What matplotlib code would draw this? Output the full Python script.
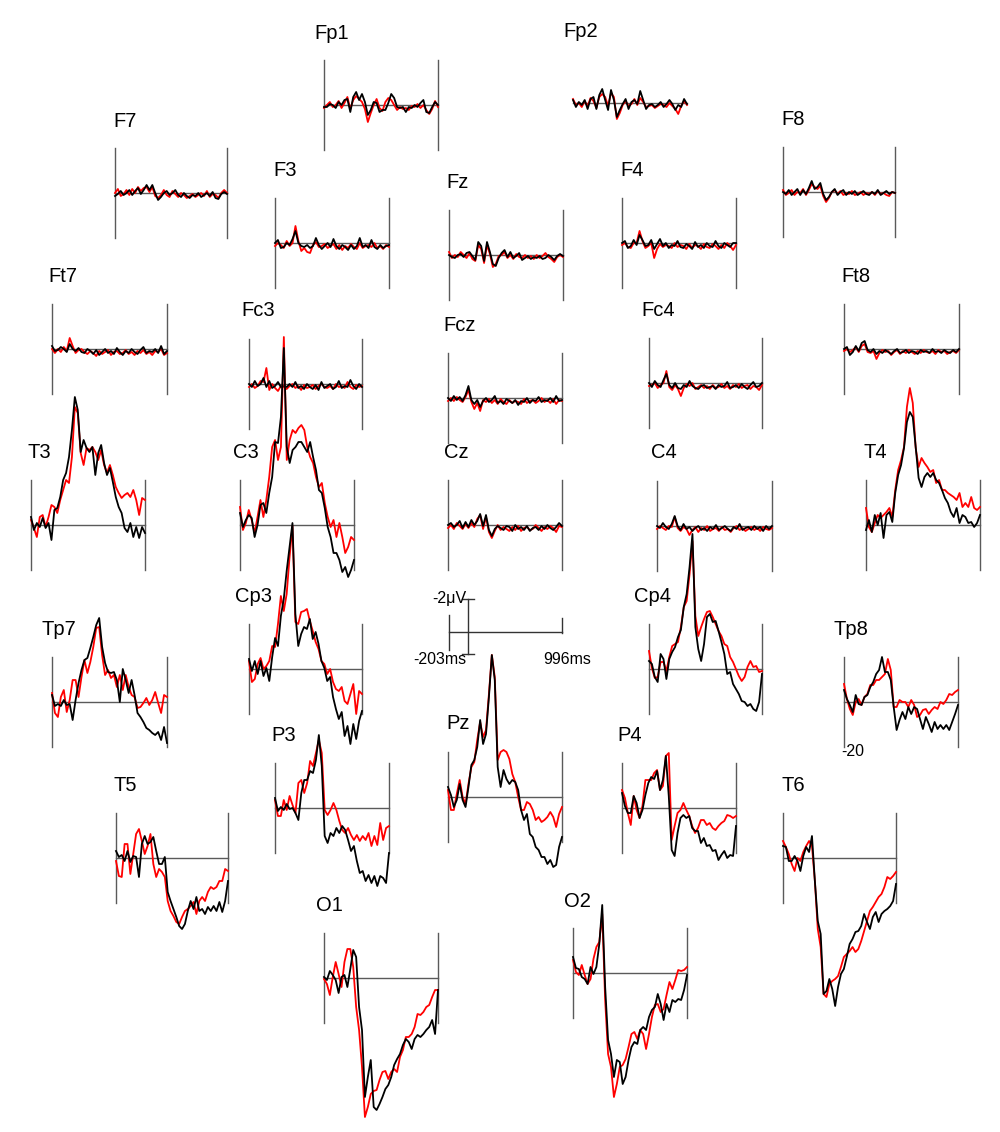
#!/usr/bin/python
"""ERP topographic plot
=======================

Grand average waveforms for two conditions (red / black) drawn on a
head-shaped layout of 28 channels. Negative is plotted up.

Run with

python plot.py
"""

import numpy as np
import matplotlib
matplotlib.use('Agg')
import matplotlib.pyplot as plt

plt.rcParams['font.family'] = ['Liberation Sans', 'DejaVu Sans']

EPOCH_START = -203  # ms
EPOCH_END = 996     # ms
N_SAMPLES = 40
Y_LIM = 4.5         # uV, half height of a channel box

# amplitudes in uV, one value per sample
FP1_RED = [0.3, 0.0, -0.3, 0.2, 0.0, -0.4, 0.3, -0.2, -0.8, 0.4,
           -0.5, -0.9, -0.6, -0.3, 0.4, 1.7, 0.8, 0.0, -0.6, 0.3,
           0.6, -0.3, -0.7, -0.5, 0.0, 0.5, 0.2, 0.4, 0.3, 0.5,
           0.1, 0.2, -0.1, 0.3, 0.0, 0.5, 0.9, 0.4, -0.4, 0.2]
FP1_BLK = [0.2, 0.2, -0.1, 0.0, 0.3, -0.3, 0.0, -0.5, -0.6, 0.7,
           -0.8, -1.3, -0.5, -1.1, -0.3, 1.0, 0.5, -0.3, -0.2, 0.7,
           0.5, 0.5, -0.2, -1.1, -0.7, 0.2, 0.3, 0.2, 0.7, 0.2,
           0.3, 0.0, 0.2, -0.2, -0.5, 0.7, 0.8, 0.2, -0.3, 0.0]
FP2_RED = [-0.4, 0.2, 0.0, 0.4, -0.2, 0.3, -0.5, -0.2, 0.5, -0.6,
           -0.9, -0.6, 0.3, -1.0, -0.6, 1.6, 1.0, 0.2, -0.2, 0.3,
           0.1, -0.4, 0.2, -0.5, -0.1, 0.4, 0.3, 0.2, 0.5, 0.3,
           0.1, 0.2, 0.4, 0.0, 0.3, 0.6, 1.1, 0.3, -0.2, 0.2]
FP2_BLK = [-0.3, 0.4, -0.1, 0.2, -0.3, 0.6, -0.4, -0.6, 0.6, -0.8,
           -1.4, -0.3, 0.7, -1.3, -0.3, 1.4, 0.7, 0.1, -0.4, 0.6,
           -0.1, -0.3, 0.1, -1.2, -0.3, 0.6, 0.2, 0.1, 0.4, 0.2,
           -0.1, 0.4, 0.1, -0.3, 0.1, 0.7, 0.2, 0.4, -0.4, 0.1]
F7_RED = [0.0, -0.4, 0.3, 0.1, -0.3, 0.2, -0.4, 0.0, -0.6, -0.2,
          -0.5, -0.6, -0.1, -0.6, 0.3, 0.5, 0.2, -0.3, 0.2, 0.4,
          -0.2, 0.1, 0.4, 0.0, 0.2, 0.5, 0.3, 0.1, 0.4, 0.2,
          0.0, 0.3, -0.2, 0.4, 0.1, 0.2, 0.5, 0.0, -0.3, 0.0]
F7_BLK = [0.3, 0.1, -0.2, 0.2, 0.0, -0.3, 0.2, -0.2, -0.5, 0.1,
          -0.3, -0.8, -0.3, -0.8, 0.0, 0.7, 0.4, 0.0, -0.2, 0.2,
          0.0, -0.3, 0.2, 0.4, 0.0, 0.3, 0.5, 0.2, 0.3, 0.0,
          0.4, 0.2, 0.0, 0.3, -0.1, 0.5, 0.6, 0.1, -0.1, 0.1]
F3_RED = [0.3, 0.0, 0.2, 0.5, -0.2, 0.3, 0.0, -1.7, -0.2, 0.8,
          0.5, 0.9, 1.0, 0.2, -0.1, 0.4, 0.3, 0.1, 0.5, 0.3,
          0.1, 0.6, 0.2, 0.7, 0.3, 0.5, 0.1, 0.4, 0.6, 0.0,
          0.5, 0.3, 0.2, 0.4, 0.0, 0.5, 0.3, 0.6, 0.2, 0.4]
F3_BLK = [0.0, -0.3, 0.5, 0.4, 0.0, 0.2, -0.4, -1.2, 0.0, 0.3,
          0.4, 0.2, 0.5, 0.3, -0.5, 0.2, 0.6, 0.3, 0.0, 0.4,
          -0.4, 0.3, 0.6, 0.2, 0.4, 0.7, 0.2, 0.6, 0.3, -0.5,
          0.4, 0.2, 0.5, -0.3, 0.4, 0.6, 0.2, 0.5, 0.3, 0.2]
FZ_RED = [-0.3, 0.3, 0.0, 0.2, -0.3, 0.0, 0.3, -0.2, 0.4, 0.6,
          -1.0, -0.6, 0.8, -1.0, -0.1, 1.2, 0.9, 0.1, 0.0, -0.3,
          0.3, 0.0, 0.4, -0.1, 0.2, 0.3, 0.0, 0.3, 0.1, 0.4,
          0.0, 0.3, 0.1, -0.2, 0.2, 0.4, 0.7, 0.2, 0.0, 0.2]
FZ_BLK = [0.0, 0.2, 0.3, 0.0, -0.1, 0.2, -0.2, -0.3, 0.1, 0.5,
          -1.3, -0.9, 0.6, -1.3, -0.3, 0.9, 1.1, 0.3, -0.2, -0.5,
          0.2, -0.3, 0.3, 0.1, -0.2, 0.5, 0.3, 0.1, 0.4, 0.2,
          0.3, 0.1, 0.4, 0.3, 0.0, 0.2, 0.5, 0.1, -0.1, 0.1]
F4_RED = [0.2, 0.0, 0.4, 0.5, 0.0, 0.0, -1.2, -0.2, 0.5, 0.3,
          0.0, 1.5, 0.6, 0.1, 0.4, 0.2, 0.3, 0.5, 0.0, 0.4,
          0.2, 0.3, 0.6, 0.1, 0.5, 0.2, 0.3, 0.6, 0.1, 0.4,
          0.5, 0.1, 0.3, 0.6, 0.2, 0.5, 0.0, 0.3, 0.7, 0.2]
F4_BLK = [0.0, -0.2, 0.5, 0.3, -0.3, 0.2, -0.8, -0.3, 0.3, 0.2,
          -0.3, 0.6, 0.1, -0.4, 0.3, 0.0, 0.5, 0.2, 0.3, -0.2,
          0.4, 0.5, 0.1, 0.3, 0.6, -0.1, 0.4, 0.2, 0.5, 0.0,
          0.3, 0.4, -0.2, 0.3, 0.5, 0.0, 0.2, 0.4, 0.0, 0.0]
F8_RED = [-0.2, 0.3, 0.1, -0.2, 0.3, 0.0, 0.1, -0.3, 0.3, -0.2,
          -0.8, -0.5, -0.3, -0.6, 0.4, 1.0, 0.6, 0.0, -0.2, 0.2,
          -0.1, 0.3, 0.1, 0.2, -0.1, 0.3, 0.2, 0.0, 0.3, 0.1,
          0.2, 0.0, 0.3, -0.1, 0.2, 0.1, 0.3, 0.4, 0.0, 0.1]
F8_BLK = [0.0, 0.2, -0.2, 0.3, 0.0, -0.3, 0.3, -0.2, 0.2, -0.4,
          -1.1, -0.3, -0.5, -0.9, 0.2, 0.8, 0.5, 0.0, -0.3, 0.3,
          0.0, -0.2, 0.3, 0.0, 0.2, -0.1, 0.3, 0.1, -0.1, 0.2,
          0.3, 0.0, 0.2, -0.2, 0.3, 0.1, -0.1, 0.2, 0.0, 0.1]
FT7_RED = [0.0, 0.4, 0.0, 0.3, -0.2, 0.2, -1.1, -0.3, 0.4, 0.1,
           0.0, 0.3, 0.5, 0.2, 0.4, 0.7, 0.2, 0.5, 0.3, 0.1,
           0.6, 0.3, 0.2, 0.5, 0.4, 0.1, 0.5, 0.3, 0.6, 0.2,
           0.4, 0.1, 0.5, 0.3, 0.6, 0.2, 0.3, 0.0, 0.6, 0.4]
FT7_BLK = [-0.3, 0.2, 0.1, -0.2, 0.0, 0.3, -0.5, 0.0, 0.2, -0.1,
           0.3, 0.4, 0.0, 0.2, 0.5, 0.1, 0.6, 0.3, 0.0, 0.4,
           0.2, 0.5, -0.1, 0.3, 0.6, 0.2, 0.4, 0.0, 0.3, 0.5,
           0.1, -0.2, 0.4, 0.2, 0.3, 0.0, 0.4, -0.3, 0.5, 0.2]
FC3_RED = [0.3, 0.0, 0.4, 0.2, -0.3, -0.2, -1.6, 0.6, 0.0, 0.4,
           0.7, 0.2, 0.3, 0.5, 0.2, 0.0, 0.4, 0.2, 0.6, 0.1,
           0.4, 0.3, 0.1, 0.5, 0.2, 0.0, 0.3, 0.4, 0.2, 0.5,
           0.0, 0.3, 0.2, 0.4, -0.2, 0.3, 0.5, 0.1, 0.3, 0.2]
FC3_BLK = [0.0, 0.3, -0.3, 0.2, 0.0, -0.6, 0.3, -0.3, 0.4, 0.2,
           -0.2, 0.3, 0.2, 0.3, 0.0, 0.3, -0.2, 0.4, 0.2, 0.5,
           0.0, 0.3, 0.5, 0.1, 0.6, -0.2, 0.4, 0.2, 0.0, 0.5,
           0.3, -0.3, 0.4, 0.2, 0.3, -0.4, 0.2, 0.5, 0.0, 0.3]
FCZ_RED = [0.3, 0.0, 0.3, -0.1, 0.2, 0.4, -0.1, -0.8, 0.4, 1.1,
           0.5, 1.3, 0.2, 0.4, 0.1, 0.5, 0.2, 0.6, 0.1, 0.4,
           0.6, 0.2, 0.5, 0.3, 0.4, 0.6, 0.1, 0.5, 0.3, 0.2,
           0.5, 0.3, 0.0, 0.4, 0.2, 0.5, 0.1, 0.6, 0.2, 0.3]
FCZ_BLK = [0.0, 0.3, -0.2, 0.2, -0.1, 0.3, -0.3, -1.2, 0.2, 0.6,
           0.2, 0.9, 0.3, 0.0, 0.4, 0.2, -0.2, 0.5, 0.3, 0.6,
           0.1, 0.3, 0.5, 0.2, 0.7, 0.3, 0.4, 0.0, 0.5, 0.2,
           0.3, -0.1, 0.4, 0.2, 0.3, 0.0, 0.4, -0.2, 0.3, 0.2]
FC4_RED = [0.3, 0.2, 0.0, 0.5, 0.2, 0.0, -1.2, 0.4, 0.7, 0.2,
           0.6, 1.3, 0.5, 0.1, 0.3, 0.0, 0.6, 0.4, 0.2, 0.5,
           0.3, 0.6, 0.2, 0.5, 0.4, 0.1, 0.5, 0.3, 0.6, 0.2,
           0.4, 0.1, 0.5, 0.3, 0.2, 0.6, 0.3, 0.4, 0.7, 0.2]
FC4_BLK = [0.0, 0.4, -0.2, 0.2, 0.4, -0.3, -0.9, 0.2, 0.5, 0.0,
           0.5, 0.6, 0.2, 0.4, -0.2, 0.3, 0.5, 0.6, 0.3, 0.2,
           0.5, 0.4, 0.3, 0.6, 0.2, 0.4, 0.3, -0.1, 0.5, 0.4,
           0.2, 0.5, 0.1, 0.4, 0.6, 0.2, -0.1, 0.4, 0.3, 0.0]
FT8_RED = [0.2, 0.0, 0.3, 0.1, -0.2, 0.3, -0.3, -0.5, 0.3, 0.4,
           0.2, 1.0, 0.4, 0.1, 0.3, 0.2, 0.6, 0.3, 0.1, 0.5,
           0.2, 0.4, 0.1, 0.3, 0.5, 0.2, 0.4, 0.1, 0.3, 0.4,
           0.2, 0.5, 0.1, 0.3, 0.2, 0.5, 0.3, 0.2, 0.4, 0.1]
FT8_BLK = [0.0, -0.2, 0.6, 0.3, -0.3, 0.2, -0.6, -0.8, 0.1, 0.3,
           0.0, 0.5, 0.2, 0.4, 0.1, 0.3, 0.5, 0.2, 0.0, 0.4,
           0.3, 0.1, 0.4, 0.2, 0.3, 0.5, 0.1, 0.3, 0.2, 0.4,
           0.0, 0.3, 0.2, 0.4, 0.1, 0.3, 0.4, 0.1, 0.3, 0.0]
T3_RED = [-0.5, 0.3, 1.2, -0.8, -1.0, 0.2, -0.8, -2.0, -1.8, -1.2,
          -2.5, -3.5, -4.5, -4.2, -6.8, -11.8, -11.2, -7.2, -6.0, -7.7,
          -7.5, -7.8, -7.3, -6.5, -7.5, -6.0, -5.2, -6.0, -5.0, -3.8,
          -3.2, -2.7, -3.0, -3.2, -2.8, -3.5, -2.5, -1.0, -2.7, -2.5]
T3_BLK = [-0.8, 0.5, -0.2, 0.2, -0.7, 0.3, -0.2, 1.5, -1.5, -1.7,
          -2.8, -4.5, -5.2, -6.8, -9.5, -12.8, -11.5, -7.3, -8.5, -7.7,
          -7.3, -7.8, -5.0, -7.2, -8.0, -6.2, -5.0, -5.7, -4.3, -2.8,
          -1.8, -1.2, 0.3, 0.7, -0.2, 1.2, 0.2, 1.3, 0.2, 0.8]
C3_RED = [-1.8, 0.5, -0.2, -1.5, -0.5, 0.8, -0.8, -2.5, -0.8, -2.5,
          -4.8, -7.8, -8.5, -6.5, -7.8, -18.8, -6.5, -8.5, -9.5, -9.2,
          -9.7, -10.0, -9.5, -7.8, -6.8, -6.2, -4.8, -3.8, -4.2, -2.2,
          -0.8, 0.2, -0.5, 1.2, -0.2, 1.2, 2.8, 2.2, 1.2, 1.5]
C3_BLK = [-1.2, 0.2, -0.5, -1.0, -0.7, 1.2, 0.0, -2.0, -2.2, -1.2,
          -3.2, -4.8, -8.3, -8.2, -10.8, -17.7, -7.8, -6.2, -7.5, -7.8,
          -8.3, -8.3, -7.8, -7.3, -8.3, -6.8, -5.5, -3.5, -3.2, -1.7,
          0.2, 1.2, 2.8, 2.8, 3.5, 4.7, 4.2, 5.2, 4.5, 3.5]
CZ_RED = [0.3, 0.0, 0.4, -0.2, 0.1, 0.4, -0.1, 0.3, -0.2, 0.2,
          -0.6, -1.0, 0.4, -0.8, 0.7, 1.3, 0.6, 0.0, 0.5, 0.2,
          0.4, 0.6, 0.2, 0.5, 0.1, 0.6, 0.3, 0.2, 0.5, 0.4,
          0.0, 0.3, 0.6, 0.2, 0.4, 0.1, 0.3, 0.7, 0.1, 0.2]
CZ_BLK = [0.0, -0.2, 0.2, 0.0, -0.4, 0.3, -0.3, 0.2, -0.5, 0.0,
          -0.4, -1.1, 0.1, -1.0, 0.5, 1.1, 0.4, 0.1, 0.3, 0.5,
          0.1, 0.2, 0.6, 0.0, 0.4, 0.2, 0.5, 0.1, 0.6, 0.3,
          0.2, 0.5, 0.1, 0.4, 0.0, 0.3, 0.5, 0.2, -0.2, 0.1]
C4_RED = [0.3, 0.0, 0.2, 0.4, 0.0, 0.1, -0.9, 0.2, 0.5, 0.1,
          0.3, 0.9, 0.4, 0.1, 0.6, 0.2, 0.4, 0.0, 0.5, 0.3,
          0.2, 0.5, 0.1, 0.4, 0.3, 0.6, 0.2, 0.0, 0.4, 0.2,
          0.5, 0.3, 0.1, 0.4, 0.2, 0.5, 0.1, 0.3, 0.4, 0.2]
C4_BLK = [0.0, 0.2, -0.3, 0.1, 0.3, -0.2, -1.0, 0.0, 0.4, -0.2,
          0.3, 0.1, 0.5, 0.2, 0.0, 0.4, 0.2, 0.5, 0.1, 0.3,
          -0.1, 0.4, 0.2, 0.0, 0.3, 0.5, 0.1, 0.3, -0.2, 0.4,
          0.2, 0.1, 0.4, 0.0, 0.3, 0.1, 0.5, 0.0, 0.3, 0.0]
T4_RED = [-1.7, 0.2, 0.7, -0.2, -1.0, -0.7, -1.0, -1.3, -1.7, -0.8,
          -3.5, -5.5, -6.5, -7.8, -11.8, -13.7, -12.2, -7.7, -5.8, -6.7,
          -6.2, -5.8, -5.3, -5.5, -4.2, -4.5, -3.5, -3.5, -3.2, -3.0,
          -2.8, -2.5, -3.2, -1.8, -2.2, -1.8, -2.8, -1.7, -1.5, -1.8]
T4_BLK = [0.5, -0.5, 0.7, -1.0, 0.0, -1.2, 1.3, -1.0, -1.3, -0.3,
          -3.2, -5.0, -6.0, -7.7, -10.3, -11.3, -10.8, -7.8, -4.7, -3.8,
          -4.8, -5.2, -4.8, -5.2, -4.5, -4.2, -3.5, -2.7, -2.2, -1.3,
          -0.8, -1.7, -0.2, -1.0, -0.8, -0.2, -0.3, 0.2, -0.2, -1.0]
TP7_RED = [-0.9, 1.1, 1.5, -0.5, -1.2, 1.0, -0.2, -2.2, -2.2, -0.5,
           -2.5, -4.2, -2.9, -4.0, -5.5, -7.4, -7.5, -4.7, -2.7, -3.2,
           -2.4, -2.7, -1.5, -2.7, -1.2, -2.7, -1.5, -0.7, -0.5, 0.6,
           0.5, 0.1, -0.4, 0.3, -0.2, -1.0, 0.1, 1.1, -0.7, -0.5]
TP7_BLK = [-0.7, 0.4, 0.2, 0.4, -0.2, 0.3, 0.2, 1.8, -0.2, -1.9,
           -3.2, -4.2, -4.4, -5.4, -6.5, -7.7, -8.4, -5.5, -3.9, -3.0,
           -2.9, -3.0, -2.2, 0.0, -3.3, -2.2, -0.9, -2.2, -0.7, 1.1,
           1.5, 2.0, 2.6, 2.8, 3.1, 3.3, 3.0, 3.8, 2.5, 4.1]
CP3_RED = [-0.8, 1.3, 1.0, -0.5, -1.1, 0.0, -0.3, -0.8, -2.3, -2.2,
           -4.5, -7.3, -5.8, -7.5, -11.2, -14.3, -4.7, -4.5, -5.7, -5.8,
           -6.0, -4.8, -3.8, -2.7, -2.0, -0.8, -0.5, 0.5, 0.0, 1.3,
           2.0, 2.2, 1.8, 3.2, 3.5, 2.5, 1.5, 4.5, 2.2, 2.5]
CP3_BLK = [-1.0, 0.2, -0.8, 0.5, -0.8, 0.7, -0.1, 1.2, -1.2, -3.1,
           -2.3, -5.3, -7.0, -9.8, -12.2, -14.6, -5.5, -2.3, -3.5, -4.2,
           -4.0, -5.0, -3.0, -3.7, -2.5, -0.8, -0.1, 1.2, 0.8, 2.8,
           4.0, 5.0, 4.3, 6.7, 5.7, 7.5, 5.5, 7.0, 5.2, 4.2]
CP4_RED = [-1.8, -0.1, 0.9, 0.8, -0.7, -0.7, 0.2, -1.2, -2.3, -2.5,
           -2.7, -4.2, -6.2, -6.8, -9.5, -12.8, -5.3, -3.3, -4.2, -5.0,
           -5.7, -5.8, -5.2, -4.5, -3.8, -3.3, -2.5, -2.3, -1.2, -0.7,
           0.0, 0.7, 1.2, 0.8, -0.2, -0.8, -0.2, -0.3, 0.3, 0.2]
CP4_BLK = [-0.8, -0.5, 0.8, 1.3, -1.5, -1.0, 1.0, -1.0, -1.7, -2.2,
           -3.2, -3.9, -6.2, -7.5, -10.2, -13.5, -4.2, -2.0, -0.8, -2.5,
           -5.2, -5.5, -4.7, -4.8, -3.8, -2.7, -1.5, 0.5, 0.3, 1.5,
           2.0, 2.5, 3.2, 3.3, 3.7, 3.5, 4.0, 4.2, 3.3, 0.5]
TP8_RED = [-1.8, -0.3, 0.7, 1.3, 0.0, -0.3, 0.3, -0.5, -0.8, -1.7,
           -1.7, -2.2, -2.2, -2.5, -2.8, -4.3, -3.2, 0.5, 0.5, -0.2,
           0.0, 0.0, 0.5, -0.2, 0.3, 1.5, 1.3, 0.8, 0.7, 1.2,
           0.8, 0.5, 0.7, 0.0, 0.2, -0.2, -0.8, -0.7, -1.0, -1.2]
TP8_BLK = [-1.2, -0.3, 0.3, 1.0, -0.7, 0.2, 0.3, -0.5, -0.7, -1.5,
           -2.0, -2.8, -3.2, -4.5, -3.0, -3.0, -2.2, 0.5, 2.8, 1.8,
           1.0, 1.7, 0.5, 1.2, 0.5, 0.7, 1.7, 2.7, 1.5, 2.2,
           3.0, 2.0, 2.7, 2.3, 2.7, 2.3, 2.8, 2.0, 1.2, 0.3]
P3_RED = [-0.8, 0.8, 0.8, -0.8, 0.2, -1.2, -0.3, 0.5, -2.5, -2.8,
          -1.5, -2.5, -4.7, -4.2, -5.5, -6.8, -5.5, 0.2, 0.7, 0.2,
          -0.5, 0.2, 1.3, 2.2, 2.5, 2.0, 2.7, 3.2, 2.7, 3.3,
          2.8, 3.2, 2.5, 3.8, 2.8, 3.7, 1.5, 3.2, 2.0, 1.8]
P3_BLK = [-1.0, 0.3, -0.1, 0.2, -0.4, 0.1, 0.0, 0.5, 1.2, -1.5,
          -2.8, -2.8, -3.7, -3.5, -4.8, -7.3, -4.2, 2.8, 3.5, 2.5,
          2.8, 2.0, 2.5, 1.8, 2.2, 3.2, 4.3, 3.8, 5.3, 6.5,
          6.3, 7.3, 6.7, 7.5, 6.8, 7.8, 6.8, 7.0, 7.5, 4.5]
PZ_RED = [-0.7, 1.3, 1.3, -0.3, -1.7, 0.0, 0.7, -1.3, -3.0, -3.5,
          -5.7, -7.5, -6.0, -6.7, -10.3, -14.2, -12.0, -3.7, -4.5, -4.7,
          -4.5, -3.8, -2.3, -1.5, 0.0, 1.3, 1.3, 0.5, 0.7, 1.3,
          2.3, 2.0, 2.5, 2.3, 2.0, 1.5, 2.0, 3.0, 1.7, 1.0]
PZ_BLK = [-1.0, -0.2, 1.0, 0.3, -1.3, 0.3, 1.0, -1.0, -3.2, -3.7,
          -5.0, -7.7, -5.3, -6.3, -10.0, -14.2, -11.7, -3.0, -1.0, -2.7,
          -1.8, -1.3, -1.7, -1.5, -0.7, 1.3, 2.3, 1.7, 3.7, 4.0,
          5.0, 5.3, 6.0, 6.0, 6.7, 6.3, 7.0, 6.8, 5.0, 4.0]
P4_RED = [-1.8, -1.0, 0.5, 1.7, -1.2, 0.2, 1.0, -0.2, -2.8, -2.8,
          -2.8, -3.5, -3.8, -1.8, -2.2, -5.2, -5.5, 3.2, 1.8, 0.5,
          0.2, -0.5, 0.2, 0.8, 1.8, 2.5, 2.0, 1.2, 1.2, 1.7,
          1.5, 2.0, 2.2, 1.8, 1.5, 1.3, 0.7, 0.8, 1.0, 0.8]
P4_BLK = [-1.5, -0.2, 0.5, 0.5, -1.2, -0.5, 1.0, 0.2, -1.3, -2.5,
          -3.1, -2.9, -3.7, -1.8, -2.8, -5.2, -1.2, 4.2, 4.8, 2.5,
          1.0, 0.7, 1.0, 0.8, 2.0, 2.3, 2.3, 3.5, 3.0, 3.8,
          3.7, 4.3, 4.2, 5.2, 4.7, 4.3, 5.0, 4.7, 4.8, 1.8]
T5_RED = [0.3, 1.8, 1.9, -1.4, -1.4, 1.6, -0.4, -2.4, -2.9, -1.7,
          -0.4, -1.2, -2.4, 0.6, 1.9, 1.1, 1.4, 1.9, 4.3, 5.3,
          5.8, 6.4, 6.6, 5.9, 5.3, 5.1, 4.8, 4.4, 5.6, 4.3,
          3.9, 4.3, 3.4, 2.9, 3.1, 2.9, 2.3, 2.3, 1.1, 1.3]
T5_BLK = [-0.7, -0.1, -0.3, 0.3, -0.7, 0.4, -0.2, -0.1, 1.9, -1.4,
          -2.2, -1.4, -1.6, -2.1, -0.7, 0.6, 0.6, -0.1, 3.4, 4.3,
          5.1, 5.9, 6.8, 7.1, 6.6, 5.3, 4.3, 5.1, 3.9, 5.3,
          5.1, 5.6, 4.9, 5.3, 4.8, 5.3, 4.4, 5.4, 4.3, 2.3]
T6_RED = [-1.7, -1.1, -0.4, 0.6, 1.3, 0.0, 0.3, -0.6, -1.2, -1.7,
          -1.2, 2.3, 7.1, 8.9, 13.6, 13.9, 12.6, 12.3, 12.1, 11.8,
          10.9, 9.9, 9.6, 9.3, 8.9, 9.4, 9.1, 8.3, 7.3, 6.3,
          5.3, 4.9, 4.4, 3.9, 3.6, 2.9, 1.9, 2.1, 1.8, 1.4]
T6_BLK = [-1.2, -1.1, 0.3, 0.3, -0.2, 0.3, 1.3, -0.2, -1.1, -0.6,
          -2.2, 2.3, 6.3, 7.6, 13.6, 13.3, 12.1, 13.1, 14.8, 12.9,
          11.6, 11.1, 9.9, 8.6, 8.1, 7.4, 7.3, 6.8, 5.6, 6.4,
          7.1, 5.9, 5.4, 6.4, 5.6, 5.3, 5.1, 4.8, 4.3, 2.6]
O1_RED = [0.1, 0.6, 1.7, -0.1, -1.6, -0.4, 0.9, -1.6, -2.9, -2.9,
          -1.1, 2.9, 5.2, 8.9, 13.9, 12.9, 11.6, 11.3, 11.2, 10.2,
          9.4, 9.3, 10.1, 9.4, 9.1, 9.4, 7.9, 7.2, 5.9, 5.9,
          5.6, 4.9, 3.6, 3.7, 3.4, 2.9, 2.7, 1.9, 1.2, 1.2]
O1_BLK = [-0.1, 0.2, -0.7, -0.3, 0.2, 1.5, -0.1, -0.3, 0.9, -0.9,
          -2.8, -2.1, 2.9, 5.2, 11.9, 9.9, 8.2, 12.9, 13.2, 12.6,
          11.9, 11.1, 10.7, 9.9, 8.7, 8.1, 7.6, 6.7, 6.1, 6.4,
          7.1, 6.1, 5.7, 5.9, 5.6, 5.2, 4.9, 4.2, 5.6, 1.2]
O2_RED = [-1.3, -0.1, 0.2, -0.8, 0.2, 1.1, 0.6, -1.4, -2.6, -3.1,
          -5.9, 2.7, 8.1, 9.4, 12.4, 11.1, 9.4, 9.2, 8.6, 7.4,
          6.1, 5.9, 6.6, 5.7, 6.1, 7.6, 6.1, 4.4, 3.2, 3.1,
          3.9, 3.6, 2.2, 0.9, 1.6, 0.7, -0.3, -0.2, -0.3, -0.6]
O2_BLK = [-1.6, -0.5, -0.4, 0.4, 0.6, 1.1, -0.6, 0.1, -0.6, -2.9,
          -6.8, 1.4, 6.7, 8.1, 10.4, 8.7, 8.9, 11.1, 10.4, 8.7,
          7.4, 6.9, 7.1, 5.7, 5.4, 5.7, 4.4, 3.7, 3.4, 2.1,
          3.1, 4.7, 3.1, 3.9, 2.7, 2.9, 2.6, 2.7, 1.7, 0.2]

# figure layout in pixels: box left, box top, box width, label x, label baseline
FIG_W, FIG_H, BOX_H = 1000, 1132, 90
LAYOUT = {'Fp1': (324, 60, 114, 314, 39), 'Fp2': (573, 58, 114, 563, 37),
          'F7': (115, 148, 112, 113, 127), 'F3': (275, 198, 114, 273, 176),
          'Fz': (449, 210, 114, 446, 188), 'F4': (622, 198, 114, 620, 176),
          'F8': (783, 147, 112, 781, 125), 'Ft7': (52, 304, 115, 48, 282),
          'Fc3': (249, 339, 113, 241, 316), 'Fcz': (448, 353, 114, 443, 331),
          'Fc4': (649, 338, 113, 641, 316), 'Ft8': (844, 304, 115, 841, 282),
          'T3': (31, 480, 114, 28, 458), 'C3': (240, 480, 114, 233, 458),
          'Cz': (448, 480, 114, 444, 458), 'C4': (657, 481, 115, 651, 458),
          'T4': (866, 480, 114, 863, 458), 'Tp7': (52, 657, 115, 42, 635),
          'Cp3': (249, 624, 113, 235, 602), 'Cp4': (649, 624, 113, 634, 602),
          'Tp8': (844, 657, 114, 833, 635), 'P3': (275, 763, 114, 271, 741),
          'Pz': (448, 752, 114, 446, 729), 'P4': (622, 763, 114, 617, 741),
          'T5': (116, 813, 112, 113, 791), 'T6': (783, 813, 113, 781, 791),
          'O1': (324, 933, 114, 316, 911), 'O2': (573, 928, 114, 564, 907)}

FRAME_COLOR = '#5a5a5a'


def channel_data():
    """Pair the two condition averages of each channel."""
    return {'Fp1': (FP1_RED, FP1_BLK), 'Fp2': (FP2_RED, FP2_BLK),
            'F7': (F7_RED, F7_BLK), 'F3': (F3_RED, F3_BLK),
            'Fz': (FZ_RED, FZ_BLK), 'F4': (F4_RED, F4_BLK),
            'F8': (F8_RED, F8_BLK), 'Ft7': (FT7_RED, FT7_BLK),
            'Fc3': (FC3_RED, FC3_BLK), 'Fcz': (FCZ_RED, FCZ_BLK),
            'Fc4': (FC4_RED, FC4_BLK), 'Ft8': (FT8_RED, FT8_BLK),
            'T3': (T3_RED, T3_BLK), 'C3': (C3_RED, C3_BLK),
            'Cz': (CZ_RED, CZ_BLK), 'C4': (C4_RED, C4_BLK),
            'T4': (T4_RED, T4_BLK), 'Tp7': (TP7_RED, TP7_BLK),
            'Cp3': (CP3_RED, CP3_BLK), 'Cp4': (CP4_RED, CP4_BLK),
            'Tp8': (TP8_RED, TP8_BLK), 'P3': (P3_RED, P3_BLK),
            'Pz': (PZ_RED, PZ_BLK), 'P4': (P4_RED, P4_BLK),
            'T5': (T5_RED, T5_BLK), 'T6': (T6_RED, T6_BLK),
            'O1': (O1_RED, O1_BLK), 'O2': (O2_RED, O2_BLK)}


def box_axes(fig, left, top, width):
    """Axes for one channel box, given in figure pixels."""
    ax = fig.add_axes([left / FIG_W, 1 - (top + BOX_H) / FIG_H,
                       width / FIG_W, BOX_H / FIG_H])
    ax.set_xlim(EPOCH_START, EPOCH_END)
    ax.set_ylim(Y_LIM, -Y_LIM)  # negative up
    ax.axis('off')
    return ax


def plot_channel(fig, name, red, black, times):
    left, top, width, lx, ly = LAYOUT[name]
    ax = box_axes(fig, left, top, width)
    kw = dict(color=FRAME_COLOR, lw=1.0, clip_on=False)
    if name != 'Fp2':
        ax.plot([EPOCH_START] * 2, [-Y_LIM, Y_LIM], **kw)
        ax.plot([EPOCH_END] * 2, [-Y_LIM, Y_LIM], **kw)
    ax.plot([EPOCH_START, EPOCH_END], [0, 0], **kw)
    ax.plot(times, red, color='#ff0000', lw=1.3, clip_on=False)
    ax.plot(times, black, color='black', lw=1.3, clip_on=False)
    fig.text(lx / FIG_W, 1 - ly / FIG_H, name, fontsize=14.5,
             ha='left', va='baseline')
    if name == 'Tp8':
        ax.text(-235, 4.9, '-20', fontsize=11.5, ha='left', va='center')


def plot_scale(fig):
    """Amplitude / time calibration bar."""
    ax = box_axes(fig, 449, 587, 113)
    kw = dict(color='#333333', lw=1.0, clip_on=False)
    ax.plot([EPOCH_START, EPOCH_END], [0, 0], **kw)
    ax.plot([0, 0], [-3.3, 2.2], **kw)
    ax.plot([-60, 60], [-3.3, -3.3], **kw)
    ax.plot([-60, 60], [2.2, 2.2], **kw)
    ax.plot([EPOCH_START] * 2, [-1.7, 1.8], **kw)
    ax.plot([EPOCH_END] * 2, [-1.4, 0.1], **kw)
    ax.text(-15, -3.3, '-2\u03bcV', fontsize=11.5, ha='right', va='center')
    ax.text(-15, 2.7, '%dms' % EPOCH_START, fontsize=11.5,
            ha='right', va='center')
    ax.text(795, 2.7, '%dms' % EPOCH_END, fontsize=11.5,
            ha='left', va='center')


def plot_topo():
    times = np.linspace(EPOCH_START, EPOCH_END, N_SAMPLES)
    fig = plt.figure(figsize=(FIG_W / 100, FIG_H / 100), dpi=100)
    for name, (red, black) in channel_data().items():
        plot_channel(fig, name, red, black, times)
    plot_scale(fig)
    fig.savefig('out.png', dpi=100)
    plt.close(fig)


if __name__ == '__main__':

    plot_topo()
